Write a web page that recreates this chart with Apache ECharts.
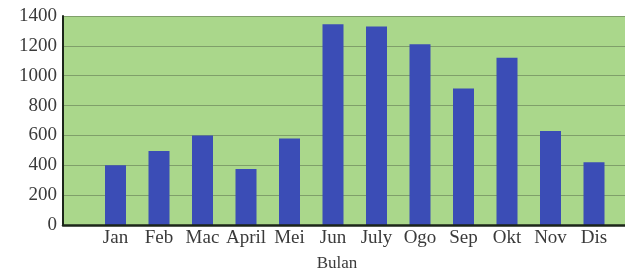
<!DOCTYPE html>
<html>
<head>
<meta charset="utf-8">
<script src="https://cdn.jsdelivr.net/npm/echarts@6/dist/echarts.min.js"></script>
<style>html,body{margin:0;padding:0;background:#fff}#c{width:625px;height:274px}</style>
</head>
<body>
<div id="c"></div>
<script>
const months = ['Jan','Feb','Mac','April','Mei','Jun','July','Ogo','Sep','Okt','Nov','Dis'];
const values = [400, 495, 600, 375, 580, 1345, 1330, 1210, 915, 1120, 630, 420];
const xAxisTitle = 'Bulan';
const yMin = 0, yMax = 1400, yStep = 200;

const serif = '"Liberation Serif", "DejaVu Serif", serif';
const chart = echarts.init(document.getElementById('c'), null, {renderer: 'canvas'});
chart.setOption({
  animation: false,
  backgroundColor: '#ffffff',
  grid: [
    {left: 63, right: 0, top: 16, bottom: 49, show: true, backgroundColor: '#aad78b', borderWidth: 0, outerBoundsMode: 'none', containLabel: false},
    {left: 93.75, width: 522, top: 16, bottom: 49, outerBoundsMode: 'none', containLabel: false}
  ],
  xAxis: [
    {
      type: 'category', gridIndex: 0, data: [''], z: 5,
      axisLine: {show: true, lineStyle: {color: '#1c261a', width: 2.5}},
      axisTick: {show: false}, axisLabel: {show: false}, splitLine: {show: false},
      name: xAxisTitle, nameLocation: 'middle', nameGap: 30,
      nameTextStyle: {fontFamily: serif, fontSize: 17, color: '#3a3a3a', padding: [0, 14, 0, 0]}
    },
    {
      type: 'category', gridIndex: 1, data: months,
      axisLine: {show: false}, axisTick: {show: false},
      axisLabel: {fontFamily: serif, fontSize: 19, color: '#3a3a3a', margin: 4, interval: 0}
    }
  ],
  yAxis: [
    {
      type: 'value', gridIndex: 0, min: yMin, max: yMax, interval: yStep, z: 0,
      axisLine: {show: true, lineStyle: {color: '#1c261a', width: 2}},
      axisTick: {show: false},
      axisLabel: {fontFamily: serif, fontSize: 19, color: '#3a3a3a', margin: 6, formatter: v => String(v)},
      splitLine: {show: true, lineStyle: {color: '#7f9f6a', width: 1}}
    },
    {type: 'value', gridIndex: 1, min: yMin, max: yMax, interval: yStep, show: false}
  ],
  series: [{
    type: 'bar', xAxisIndex: 1, yAxisIndex: 1, data: values, barWidth: 21, z: 3,
    itemStyle: {color: '#3b4db6'}
  }]
});
</script>
</body>
</html>
